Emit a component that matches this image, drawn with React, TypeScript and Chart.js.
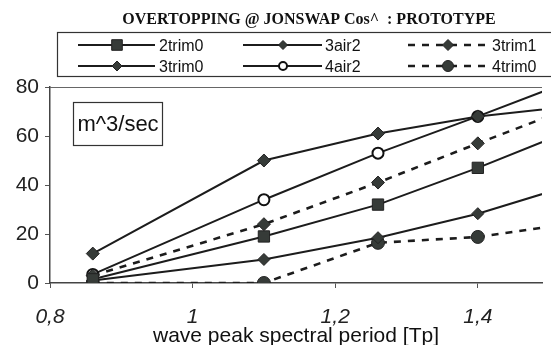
import React, { useEffect, useRef } from 'react';
import { Chart, registerables } from 'chart.js';

Chart.register(...registerables);

// ---- data ----
const periods = [0.86, 1.1, 1.26, 1.4, 1.55];
const xTickValues = [0.8, 1.0, 1.2, 1.4];
const v2trim0 = [1.5, 19, 32, 47, 64.5];
const v3air2 = [1, 9.6, 18.5, 28.3, 41.6];
const v3trim1 = [3, 24, 41, 57, 73.7];
const v3trim0 = [12, 50, 61, 68, 72.7];
const v4air2 = [3.5, 34, 53, 68, 84.7];
const v4trim0 = [0, 0, 16.4, 18.8, 25.1];
const chartTitle = 'OVERTOPPING @ JONSWAP Cos^  : PROTOTYPE';
const unitLabel = 'm^3/sec';
const xAxisTitle = 'wave peak spectral period [Tp]';

const LINE = '#1c1c1c';
const MARK = '#363b38';
const SANS = '"Liberation Sans", Arial, sans-serif';

const pts = (vals: number[]) => vals.map((y, i) => ({ x: periods[i], y }));

function drawMarker(ctx: CanvasRenderingContext2D, style: string, x: number, y: number, r: number, fill: string, stroke: string, lw: number) {
  ctx.save();
  ctx.setLineDash([]);
  ctx.beginPath();
  if (style === 'rect') {
    const s = r * Math.SQRT1_2;
    ctx.rect(x - s, y - s, 2 * s, 2 * s);
  } else if (style === 'rectRot') {
    ctx.moveTo(x - r, y);
    ctx.lineTo(x, y - r);
    ctx.lineTo(x + r, y);
    ctx.lineTo(x, y + r);
    ctx.closePath();
  } else {
    ctx.arc(x, y, r, 0, Math.PI * 2);
  }
  ctx.fillStyle = fill;
  ctx.fill();
  ctx.lineWidth = lw;
  ctx.strokeStyle = stroke;
  ctx.stroke();
  ctx.restore();
}

const legendSlots = [
  { x0: 78, x1: 155, mx: 117, tx: 159, y: 45, r: 7.5 },
  { x0: 243, x1: 322, mx: 283, tx: 325, y: 45, r: 4.5 },
  { x0: 408, x1: 488, mx: 448, tx: 492, y: 45, r: 5.5 },
  { x0: 78, x1: 155, mx: 117, tx: 159, y: 66, r: 5 },
  { x0: 243, x1: 322, mx: 283, tx: 325, y: 66, r: 4 },
  { x0: 408, x1: 488, mx: 448, tx: 492, y: 66, r: 5.5 },
];

const decorPlugin = {
  id: 'decor',
  afterDraw(chart: any) {
    const ctx: CanvasRenderingContext2D = chart.ctx;
    const area = chart.chartArea;
    ctx.save();
    // top border of plot
    ctx.strokeStyle = '#666';
    ctx.lineWidth = 1.2;
    ctx.beginPath();
    ctx.moveTo(area.left, area.top + 0.5);
    ctx.lineTo(area.right, area.top + 0.5);
    ctx.stroke();

    // title
    ctx.fillStyle = '#111';
    ctx.font = 'bold 16px "Liberation Serif", "Times New Roman", serif';
    ctx.textAlign = 'center';
    ctx.textBaseline = 'middle';
    ctx.fillText(chartTitle, 309, 20);

    // legend box
    ctx.strokeStyle = '#333';
    ctx.lineWidth = 1.2;
    ctx.strokeRect(57.5, 32.5, 520, 44);

    ctx.font = '16px ' + SANS;
    ctx.textAlign = 'left';
    chart.data.datasets.forEach((ds: any, i: number) => {
      const s = legendSlots[i];
      ctx.save();
      ctx.strokeStyle = ds.borderColor;
      ctx.lineWidth = ds.borderWidth;
      ctx.setLineDash(ds.borderDash || []);
      ctx.beginPath();
      ctx.moveTo(s.x0, s.y);
      ctx.lineTo(s.x1, s.y);
      ctx.stroke();
      ctx.restore();
      drawMarker(ctx, ds.pointStyle, s.mx, s.y, s.r, ds.pointBackgroundColor, ds.pointBorderColor, ds.pointBorderWidth);
      ctx.fillStyle = '#111';
      ctx.fillText(ds.label, s.tx, s.y + 1.5);
    });

    // unit box
    ctx.strokeStyle = '#333';
    ctx.lineWidth = 1.2;
    ctx.strokeRect(73.5, 102.5, 89, 43);
    ctx.font = '22px ' + SANS;
    ctx.fillStyle = '#111';
    ctx.textAlign = 'center';
    ctx.fillText(unitLabel, 118, 125);
    ctx.restore();
  },
};

export default function App() {
  const ref = useRef<HTMLCanvasElement>(null);
  useEffect(() => {
    if (!ref.current) return;
    const common = { borderColor: LINE, pointBorderColor: '#222', pointBorderWidth: 1, pointBackgroundColor: MARK, tension: 0 };
    const chart = new Chart(ref.current, {
      type: 'line',
      data: {
        datasets: [
          { ...common, label: '2trim0', data: pts(v2trim0), borderWidth: 2, pointStyle: 'rect', pointRadius: 8 },
          { ...common, label: '3air2', data: pts(v3air2), borderWidth: 2, pointStyle: 'rectRot', pointRadius: 6 },
          { ...common, label: '3trim1', data: pts(v3trim1), borderWidth: 2.6, borderDash: [7, 7], pointStyle: 'rectRot', pointRadius: 6.5 },
          { ...common, label: '3trim0', data: pts(v3trim0), borderWidth: 2, pointStyle: 'rectRot', pointRadius: 6.5 },
          { ...common, label: '4air2', data: pts(v4air2), borderWidth: 2, pointStyle: 'circle', pointRadius: 5.5, pointBackgroundColor: '#fff', pointBorderColor: '#111', pointBorderWidth: 2 },
          { ...common, label: '4trim0', data: pts(v4trim0), borderWidth: 2.6, borderDash: [7, 7], pointStyle: 'circle', pointRadius: 6.5 },
        ] as any,
      },
      options: {
        animation: false,
        responsive: false,
        devicePixelRatio: 1,
        layout: { padding: { top: 87, left: 0, right: 0, bottom: 0 } },
        plugins: { legend: { display: false }, tooltip: { enabled: false }, title: { display: false } },
        scales: {
          x: {
            type: 'linear',
            min: 0.8,
            max: 1.49,
            afterBuildTicks: (s: any) => { s.ticks = xTickValues.map((v) => ({ value: v })); },
            afterFit: (s: any) => { s.height = 62; },
            ticks: {
              color: '#222',
              font: { family: SANS, size: 21, style: 'italic' },
              padding: 17,
              autoSkip: false,
              maxRotation: 0,
              callback: (v: any) => String(v).replace('.', ','),
            },
            grid: { drawOnChartArea: false, drawTicks: true, tickLength: 5, color: '#555' },
            border: { display: true, color: '#444', width: 1.5 },
            title: { display: true, text: xAxisTitle, color: '#111', font: { family: SANS, size: 21 }, padding: { top: 0, bottom: -4 } },
          },
          y: {
            min: 0,
            max: 80,
            afterFit: (s: any) => { s.width = 50; },
            ticks: { stepSize: 20, color: '#222', font: { family: SANS, size: 21 }, padding: 6 },
            grid: { drawOnChartArea: false, drawTicks: true, tickLength: 5, color: '#555' },
            border: { display: true, color: '#444', width: 1.5 },
          },
        },
      } as any,
      plugins: [decorPlugin],
    });
    return () => chart.destroy();
  }, []);
  return (
    <div style={{ position: 'fixed', left: 0, top: 0, width: 551, height: 345, background: '#fff' }}>
      <canvas ref={ref} width={551} height={345} />
    </div>
  );
}
